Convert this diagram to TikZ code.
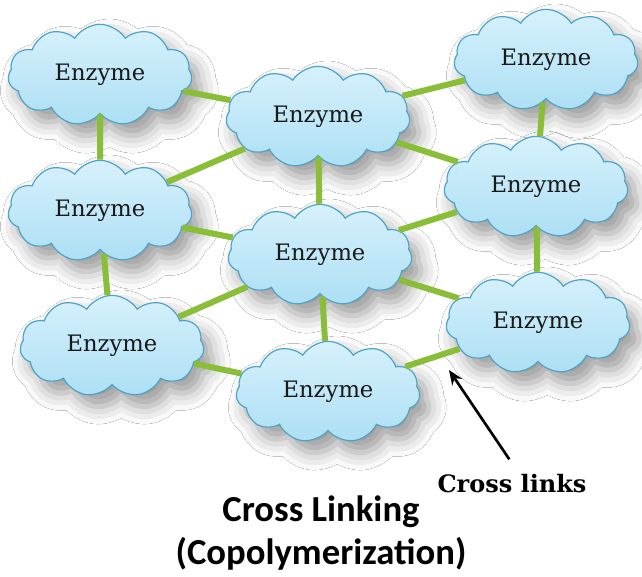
\documentclass[tikz,border=0pt]{standalone}
\usepackage{fontspec}
\setmainfont{DejaVu Serif}
\newfontfamily\titlefont{Carlito}
\usetikzlibrary{shapes.symbols,shadows.blur,arrows.meta,calc}
\definecolor{cloudtop}{HTML}{D6F1FC}
\definecolor{cloudbot}{HTML}{ADDFF4}
\definecolor{cloudedge}{HTML}{4FA3C7}
\definecolor{linkgreen}{HTML}{8ABD38}
\tikzset{
  enz/.style={cloud, cloud puffs=11, cloud puff arc=115, cloud ignores aspect,
    minimum width=138pt, minimum height=76pt, inner sep=0pt,
    draw=cloudedge, line width=0.9pt, top color=cloudtop, bottom color=cloudbot,
    blur shadow={shadow xshift=7pt, shadow yshift=-9pt, shadow blur radius=13pt, shadow opacity=40},
    font=\fontsize{17}{19}\selectfont, text=black!90},
  link/.style={draw=linkgreen, line width=4.5pt},
  arr/.style={draw=black, line width=2pt, -{Stealth[length=11pt,width=9pt]}}
}
\begin{document}
\begin{tikzpicture}[x=0.75pt,y=-0.75pt]
\useasboundingbox (0,0) rectangle (642,576);
\fill[white] (0,0) rectangle (642,576);
% clouds
\node[enz] (tl) at (100,75) {Enzyme};
\node[enz] (tc) at (318,117) {Enzyme};
\node[enz] (tr) at (546,60) {Enzyme};
\node[enz] (ml) at (100,211) {Enzyme};
\node[enz] (mr) at (536,187) {Enzyme};
\node[enz] (c) at (320,255) {Enzyme};
\node[enz] (bl) at (112,346) {Enzyme};
\node[enz] (br) at (538,323) {Enzyme};
\node[enz] (bc) at (328,392) {Enzyme};
% links
\begin{scope}[link]
\draw (tl) -- (tc);
\draw (tl) -- (ml);
\draw (tc) -- (tr);
\draw (tc) -- (mr);
\draw (tc) -- (c);
\draw (ml) -- (tc);
\draw (ml) -- (c);
\draw (ml) -- (bl);
\draw (tr) -- (mr);
\draw (mr) -- (c);
\draw (mr) -- (br);
\draw (c) -- (bl);
\draw (c) -- (br);
\draw (c) -- (bc);
\draw (bl) -- (bc);
\draw (bc) -- (br);
\end{scope}
% labels
\node[font=\bfseries\fontsize{18}{20}\selectfont] (cl) at (512,484) {Cross links};
\coordinate (tip) at (449,370);
\draw[arr] ([xshift=-2pt,yshift=8pt]cl.north) -- (tip);
\node[font=\titlefont\bfseries\fontsize{27.5}{32}\selectfont, align=center] (title) at (321,533) {Cross Linking\\(Copolymerization)};
\end{tikzpicture}
\end{document}
